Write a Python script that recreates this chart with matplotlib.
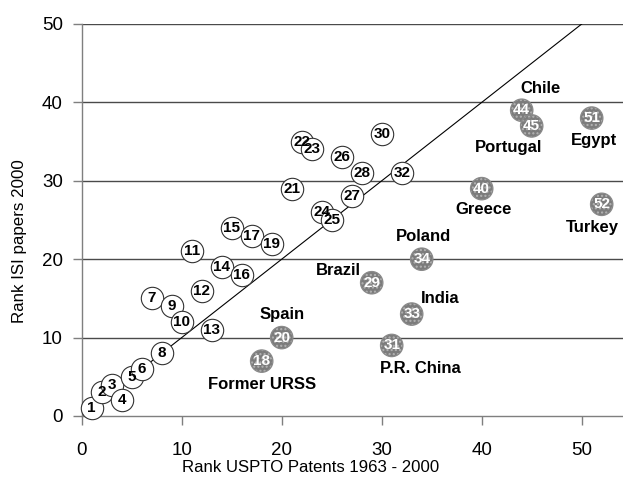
import matplotlib
matplotlib.use("Agg")
import matplotlib.pyplot as plt

plt.rcParams['font.family'] = ['Liberation Sans', 'DejaVu Sans']

# Developed / other countries (white circles)
white_ids = [1, 2, 3, 4, 5, 6, 7, 8, 9, 10, 11, 12, 13, 14, 15, 16, 17, 19,
             21, 22, 23, 24, 25, 26, 27, 28, 30, 32]
white_x = [1, 2, 3, 4, 5, 6, 7, 8, 9, 10, 11, 12, 13, 14, 15, 16, 17, 19,
           21, 22, 23, 24, 25, 26, 27, 28, 30, 32]
white_y = [1, 3, 4, 2, 5, 6, 15, 8, 14, 12, 21, 16, 11, 19, 24, 18, 23, 22,
           29, 35, 34, 26, 25, 33, 28, 31, 36, 31]

# Highlighted countries (grey circles)
grey_ids = [18, 20, 29, 31, 33, 34, 40, 44, 45, 51, 52]
grey_x = [18, 20, 29, 31, 33, 34, 40, 44, 45, 51, 52]
grey_y = [7, 10, 17, 9, 13, 20, 29, 39, 37, 38, 27]

country_names = ["Former URSS", "Spain", "Brazil", "P.R. China", "India",
                 "Poland", "Greece", "Chile", "Portugal", "Egypt", "Turkey"]
name_x = [18, 20, 25.7, 33.9, 35.8, 34.2, 40.2, 45.9, 42.7, 51.2, 51.1]
name_y = [4.0, 12.9, 18.5, 6.0, 15.0, 22.9, 26.3, 41.8, 34.2, 35.2, 24.1]

diag_x = [0, 50]
diag_y = [0, 50]

x_ticks = [0, 10, 20, 30, 40, 50]
y_ticks = [0, 10, 20, 30, 40, 50]

fig = plt.figure(figsize=(6.23, 4.90), dpi=100)
ax = fig.add_axes([81.7 / 623, 1 - 416 / 490, 1 - 81.7 / 623, (416 - 24) / 490])
ax.set_xlim(0, (623 - 81.7) / 10.0)
ax.set_ylim(0, 50)

for y in y_ticks[1:]:
    ax.axhline(y, color='#4a4a4a', lw=1.0, zorder=1)

ax.plot(diag_x, diag_y, color='black', lw=0.8, zorder=2)

ms = 260
ax.scatter(white_x, white_y, s=ms, facecolor='white', edgecolor='#333333',
           linewidth=0.8, zorder=3, clip_on=False)
for i, xv, yv in zip(white_ids, white_x, white_y):
    ax.text(xv, yv, str(i), ha='center', va='center', fontsize=11,
            fontweight='bold', color='black', zorder=4)

ax.scatter(grey_x, grey_y, s=ms, facecolor='#7c7c7c', edgecolor='#b4b4b4',
           hatch='....', linewidth=0, zorder=3, clip_on=False)
ax.scatter(grey_x, grey_y, s=ms, facecolor='none', edgecolor='#8a8a8a',
           linewidth=0.9, zorder=3, clip_on=False)
for i, xv, yv in zip(grey_ids, grey_x, grey_y):
    ax.text(xv, yv, str(i), ha='center', va='center', fontsize=11,
            fontweight='bold', color='white', zorder=4)

for n, xv, yv in zip(country_names, name_x, name_y):
    ax.text(xv, yv, n, ha='center', va='center', fontsize=12,
            fontweight='bold', color='black', zorder=4)

ax.set_xticks(x_ticks)
ax.set_yticks(y_ticks)
ax.tick_params(axis='both', labelsize=13.5, color='#7f7f7f', length=6.5, width=1.0)
ax.tick_params(axis='x', pad=12)
ax.tick_params(axis='y', pad=7)

for s in ['top', 'right']:
    ax.spines[s].set_visible(False)
for s in ['left', 'bottom']:
    ax.spines[s].set_color('#7f7f7f')
    ax.spines[s].set_linewidth(1.0)

fig.text(311 / 623, 1 - 467 / 490, "Rank USPTO Patents 1963 - 2000",
         ha='center', va='center', fontsize=12.1)
fig.text(20 / 623, 1 - 241 / 490, "Rank ISI papers 2000", rotation=90,
         ha='center', va='center', fontsize=12.2)

fig.savefig("out.png", dpi=100)
